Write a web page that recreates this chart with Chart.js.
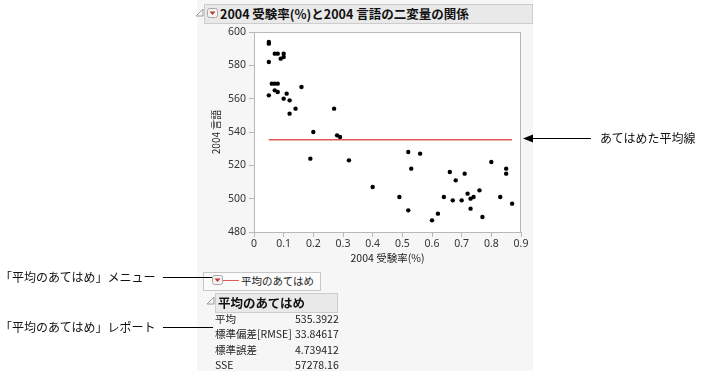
<!DOCTYPE html>
<html lang="ja">
<head>
<meta charset="utf-8">
<script src="https://cdn.jsdelivr.net/npm/chart.js@4.4.1/dist/chart.umd.min.js"></script>
<style>
  body { margin: 0; width: 707px; height: 371px; overflow: hidden; position: relative; background: #fff;
         font-family: "Noto Sans CJK JP", "Noto Sans", sans-serif; color: #222; }
  .abs { position: absolute; white-space: nowrap; }
  #panel { left: 197px; top: 0; width: 336px; height: 371px; background: #f6f6f6; }
  #chart { position: absolute; left: 0; top: 0; }
  #header { left: 204px; top: 4px; width: 327px; height: 18px; background: #e9e9e9; border: 1px solid #cdcdcd; }
  #title { left: 220px; top: 4px; font-size: 12.5px; font-weight: bold; line-height: 19px; color: #111; }
  #legendBox { left: 203px; top: 272px; width: 116px; height: 17px; background: #fbfbfb; border: 1px solid #c8c8c8; }
  #legendText { left: 241px; top: 272px; font-size: 10.5px; line-height: 18px; color: #222; }
  #legendLine { left: 223px; top: 280px; width: 16px; height: 0; border-top: 1.5px solid #e05a5a; }
  #repHeader { left: 215px; top: 293px; width: 121px; height: 18px; background: #e9e9e9; border: 1px solid #cdcdcd; }
  #repTitle { left: 218px; top: 293px; font-size: 12.5px; font-weight: bold; line-height: 20px; color: #111; }
  .row { font-size: 10.5px; line-height: 15px; color: #222; }
  .note { font-size: 12px; line-height: 16px; color: #111; }
  .rule { height: 0; border-top: 1px solid #000; }
  svg.abs { overflow: visible; }
</style>
</head>
<body>
<div id="panel" class="abs"></div>
<canvas id="chart" width="707" height="371"></canvas>

<div id="header" class="abs"></div>
<svg class="abs" style="left:196px;top:9px" width="8" height="8"><path d="M7 0 L7 7 L0 7 Z" fill="none" stroke="#9a9a9a" stroke-width="1"/></svg>
<svg class="abs" style="left:207px;top:8px" width="11" height="10"><rect x="0.5" y="0.5" width="10" height="9" rx="2" fill="#f4f4f4" stroke="#a8a8a8"/><path d="M2.5 3.5 L8.5 3.5 L5.5 7 Z" fill="#c0392b"/></svg>
<div id="title" class="abs">2004 受験率(%)と2004 言語の二変量の関係</div>

<div id="legendBox" class="abs"></div>
<svg class="abs" style="left:212px;top:275px" width="11" height="10"><rect x="0.5" y="0.5" width="10" height="9" rx="2" fill="#f4f4f4" stroke="#a8a8a8"/><path d="M2.5 3.5 L8.5 3.5 L5.5 7 Z" fill="#c0392b"/></svg>
<div id="legendLine" class="abs"></div>
<div id="legendText" class="abs">平均のあてはめ</div>

<svg class="abs" style="left:207px;top:297px" width="8" height="8"><path d="M7 0 L7 7 L0 7 Z" fill="none" stroke="#9a9a9a" stroke-width="1"/></svg>
<div id="repHeader" class="abs"></div>
<div id="repTitle" class="abs">平均のあてはめ</div>
<div id="report"></div>

<div class="abs note" style="left:0;top:269px">「平均のあてはめ」メニュー</div>
<div class="abs rule" style="left:163px;top:277px;width:49px"></div>
<div class="abs note" style="left:0;top:319px">「平均のあてはめ」レポート</div>
<div class="abs rule" style="left:163px;top:327px;width:50px"></div>
<svg class="abs" style="left:522px;top:134px" width="70" height="9"><path d="M1 4.5 L11 0.5 L11 8.5 Z" fill="#000"/><line x1="10" y1="4.5" x2="69" y2="4.5" stroke="#000" stroke-width="1"/></svg>
<div class="abs note" style="left:600px;top:130px">あてはめた平均線</div>

<script>
// 2004 受験率(%) vs 2004 言語 (51 points)
const examRate = [0.05, 0.05, 0.05, 0.07, 0.08, 0.10, 0.10, 0.09, 0.06, 0.07,
  0.08, 0.07, 0.08, 0.05, 0.11, 0.10, 0.12, 0.16, 0.14, 0.12,
  0.27, 0.20, 0.28, 0.29, 0.19, 0.32, 0.40, 0.49, 0.52, 0.53,
  0.52, 0.56, 0.60, 0.62, 0.64, 0.66, 0.67, 0.68, 0.70, 0.71,
  0.72, 0.73, 0.74, 0.73, 0.76, 0.77, 0.80, 0.83, 0.85, 0.85, 0.87];
const verbal = [594, 593, 582, 587, 587, 587, 585, 584, 569, 569,
  569, 565, 564, 562, 563, 560, 559, 567, 554, 551,
  554, 540, 538, 537, 524, 523, 507, 501, 528, 518,
  493, 527, 487, 491, 501, 516, 499, 511, 499, 515,
  503, 500, 501, 494, 505, 489, 522, 501, 518, 515, 497];
const meanVerbal = 535.3922;

const xTicks = [0, 0.1, 0.2, 0.3, 0.4, 0.5, 0.6, 0.7, 0.8, 0.9];
const yTicks = [480, 500, 520, 540, 560, 580, 600];

const statLabels = ["平均", "標準偏差[RMSE]", "標準誤差", "SSE"];
const statValues = ["535.3922", "33.84617", "4.739412", "57278.16"];

// report rows
const report = document.getElementById("report");
statLabels.forEach((label, i) => {
  const top = 311 + i * 15.3;
  report.insertAdjacentHTML("beforeend",
    `<div class="abs row" style="left:215px;top:${top}px">${label}</div>` +
    `<div class="abs row" style="left:295px;top:${top}px">${statValues[i]}</div>`);
});

const points = examRate.map((x, i) => ({ x: x, y: verbal[i] }));
const xMin = Math.min(...examRate);
const xMax = Math.max(...examRate);

// white plot area + frame
const framePlugin = {
  id: "frame",
  beforeDraw(chart) {
    const a = chart.chartArea;
    const ctx = chart.ctx;
    ctx.save();
    ctx.fillStyle = "#ffffff";
    ctx.fillRect(a.left, a.top, a.right - a.left, a.bottom - a.top);
    ctx.restore();
  },
  afterDraw(chart) {
    const a = chart.chartArea;
    const ctx = chart.ctx;
    ctx.save();
    ctx.strokeStyle = "#b8b8b8";
    ctx.lineWidth = 1;
    ctx.strokeRect(a.left + 0.5, a.top + 0.5, a.right - a.left - 1, a.bottom - a.top);
    ctx.restore();
  }
};

const tickFont = { family: "'Noto Sans', sans-serif", size: 10.5 };

new Chart(document.getElementById("chart"), {
  type: "scatter",
  data: {
    datasets: [
      {
        type: "line",
        data: [{ x: xMin, y: meanVerbal }, { x: xMax, y: meanVerbal }],
        borderColor: "#e05a5a",
        borderWidth: 1.6,
        pointRadius: 0,
        fill: false,
      },
      {
        data: points,
        backgroundColor: "#000",
        borderWidth: 0,
        pointRadius: 2.2,
      },
    ],
  },
  options: {
    responsive: false,
    animation: false,
    devicePixelRatio: 1,
    layout: { padding: { left: 205, top: 32, right: 186, bottom: 107 } },
    plugins: { legend: { display: false }, tooltip: { enabled: false } },
    scales: {
      x: {
        type: "linear",
        min: 0,
        max: 0.9,
        afterBuildTicks: (s) => { s.ticks = xTicks.map((v) => ({ value: v })); },
        afterFit: (s) => { s.height = 32; },
        ticks: { font: tickFont, color: "#333", padding: 1, maxRotation: 0,
                 callback: (v) => String(Math.round(v * 10) / 10) },
        grid: { drawOnChartArea: false, drawTicks: true, tickLength: 5, color: "#b8b8b8" },
        border: { display: false },
        title: { display: true, text: "2004 受験率(%)", color: "#222",
                 font: { family: "'Noto Sans CJK JP', sans-serif", size: 10.5 }, padding: 0 },
      },
      y: {
        type: "linear",
        min: 480,
        max: 600,
        afterBuildTicks: (s) => { s.ticks = yTicks.map((v) => ({ value: v })); },
        afterFit: (s) => { s.width = 49; },
        ticks: { font: tickFont, color: "#333", padding: 3 },
        grid: { drawOnChartArea: false, drawTicks: true, tickLength: 5, color: "#b8b8b8" },
        border: { display: false },
        title: { display: true, text: "2004 言語", color: "#222",
                 font: { family: "'Noto Sans CJK JP', sans-serif", size: 10 }, padding: { top: 5, bottom: 0 } },
      },
    },
  },
  plugins: [framePlugin],
});
</script>
</body>
</html>
